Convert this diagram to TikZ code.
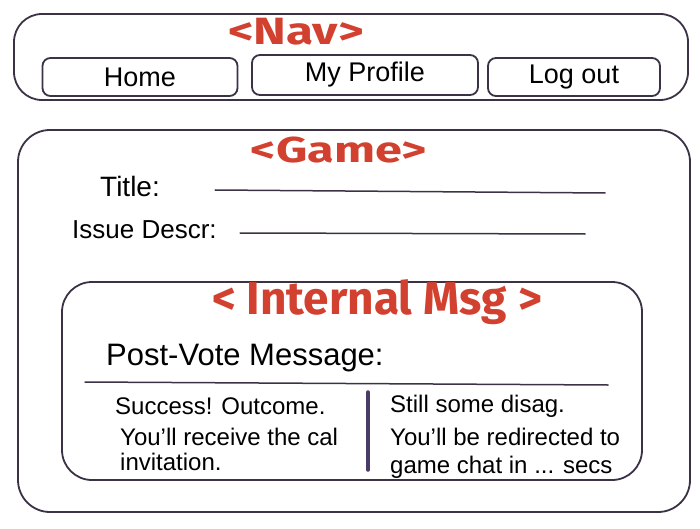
\documentclass[tikz,border=0pt]{standalone}
\usepackage{fontspec}
\setmainfont{Liberation Sans}
\newfontfamily\redfont{Fira Sans}
\definecolor{ink}{HTML}{3B3345}
\definecolor{redink}{HTML}{D2402F}
\definecolor{divink}{HTML}{4A3C66}
\tikzset{
  box/.style={draw=ink, line width=1.8pt, rounded corners=#1, inner sep=0pt},
  box/.default=8pt,
  hand/.style={text=black, anchor=west, inner sep=0pt, font=\fontsize{24}{26}\selectfont},
  btntext/.style={text=black, inner sep=0pt, font=\fontsize{27}{29}\selectfont},
  heading/.style={text=redink, inner sep=0pt, font=\redfont\bfseries\fontsize{#1}{#1}\selectfont},
  rule/.style={draw=ink, line width=1.5pt, line cap=round},
}
\begin{document}
\begin{tikzpicture}[x=1pt,y=-1pt]
\useasboundingbox[fill=white] (0,0) rectangle (700,529);
% Nav
\node[box=28pt, minimum width=674pt, minimum height=86pt] (nav) at (351,57) {};
\node[heading=38] (navh) at (296,32) {\scalebox{1.3}[1]{<Nav>}};
\node[box=8pt, minimum width=195pt, minimum height=38pt] (home) at (140,77) {};
\node[btntext] (homet) at (home.center) {Home};
\node[box=8pt, minimum width=226pt, minimum height=40pt] (prof) at (365,75) {};
\node[btntext] (proft) at (prof.center) {My Profile};
\node[box=8pt, minimum width=172pt, minimum height=38pt] (logout) at (574,77) {};
\node[btntext] (logoutt) at (logout.center) {Log out};
% Game
\node[box=32pt, minimum width=672pt, minimum height=382pt] (game) at (354,321) {};
\node[heading=36] (gameh) at (339,150) {\scalebox{1.35}[1]{<Game>}};
\node[hand, font=\fontsize{28}{30}\selectfont] (title) at (100,186) {Title:};
\coordinate (t1) at (215,190);
\coordinate (t2) at (605,193);
\draw[rule] (t1) -- (t2);
\node[hand, font=\fontsize{26}{28}\selectfont] (issue) at (72,230) {Issue Descr:};
\coordinate (i1) at (240,233);
\coordinate (i2) at (585,234);
\draw[rule] (i1) -- (i2);
% Internal Msg
\node[box=30pt, minimum width=580pt, minimum height=198pt] (msg) at (352,381) {};
\node[heading=46] (msgh) at (377,302) {< Internal Msg >};
\node[hand, font=\fontsize{31}{33}\selectfont] (post) at (106,358) {Post-Vote Message:};
\coordinate (h1) at (85,382);
\coordinate (h2) at (608,385);
\draw[rule] (h1) -- (h2);
\coordinate (d1) at (368,392);
\coordinate (d2) at (368,470);
\draw[draw=divink, line width=3.5pt, line cap=round] (d1) -- (d2);
\node[hand] (s1) at (115,406) {Success! Outcome.};
\node[hand] (s2) at (120,437) {You'll receive the cal};
\node[hand] (s3) at (120,462) {invitation.};
\node[hand] (r1) at (390,406) {Still some disag.};
\node[hand] (r2) at (390,437) {You'll be redirected to};
\node[hand] (r3) at (390,467) {game chat in ... secs};
\end{tikzpicture}
\end{document}
